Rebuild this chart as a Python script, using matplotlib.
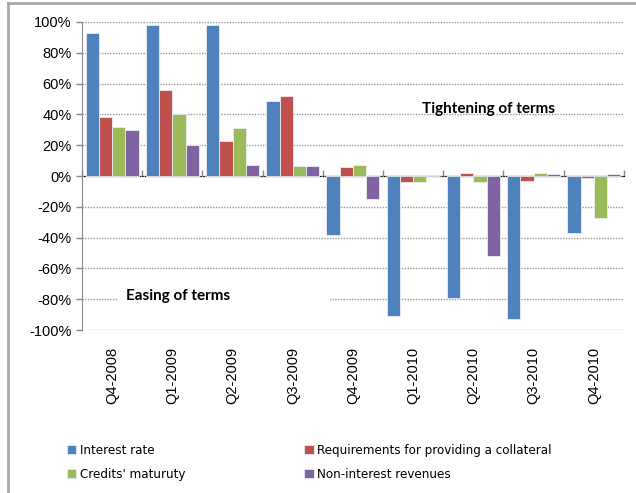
import numpy as np
import matplotlib
matplotlib.use("Agg")
import matplotlib.pyplot as plt
from matplotlib import font_manager
from matplotlib.patches import Rectangle
from matplotlib.lines import Line2D

quarters = ["Q4-2008", "Q1-2009", "Q2-2009", "Q3-2009", "Q4-2009",
            "Q1-2010", "Q2-2010", "Q3-2010", "Q4-2010"]
interest_rate = [93, 98, 98, 49, -38, -91, -79, -93, -37]
collateral = [38, 56, 23, 52, 6, -4, 2, -3, -1]
maturity = [32, 40, 31, 6.5, 7, -4, -4, 2, -27]
non_interest = [30, 20, 7, 6.5, -15, 0, -52, 1, 1]

series = [
    ("Interest rate", interest_rate, "#4F81BD"),
    ("Requirements for providing a collateral", collateral, "#C0504D"),
    ("Credits' maturuty", maturity, "#9BBB59"),
    ("Non-interest revenues", non_interest, "#8064A2"),
]

plt.rcParams['font.family'] = ['Liberation Sans', 'DejaVu Sans']

# narrow font for the legend if one is around
fonts = font_manager.fontManager.ttflist
names = {f.name for f in fonts}
if "Liberation Sans Narrow" in names:
    leg_font = dict(family="Liberation Sans Narrow", size=11)
elif any(f.name == "DejaVu Sans" and f.stretch == "condensed" for f in fonts):
    leg_font = dict(family="DejaVu Sans", stretch="condensed", size=9.5)
else:
    leg_font = dict(family="Liberation Sans", size=8.8)

fig = plt.figure(figsize=(6.36, 4.93), dpi=100)
ax = fig.add_axes([0.129, 0.3306, 0.852, 0.6248])

x = np.arange(len(quarters))
w = 0.22
handles = []
for i, (name, vals, col) in enumerate(series):
    b = ax.bar(x + (i - 1.5) * w, vals, w, color=col, edgecolor="#e8eef6",
               linewidth=0.6, zorder=2, label=name)
    handles.append(b)

ax.set_xlim(-0.5, len(quarters) - 0.5)
ax.set_ylim(-100, 100)
ax.set_yticks(np.arange(-100, 101, 20))
ax.set_yticklabels([f"{v}%" for v in range(-100, 101, 20)], fontsize=10.5)
ax.yaxis.grid(True, linestyle=(0, (1, 1)), color="#9a9a9a", linewidth=1)
ax.set_axisbelow(True)

ax.set_xticks(x)
ax.set_xticklabels(quarters, rotation=90, fontsize=10.5)
ax.tick_params(axis="x", length=0, pad=12)
ax.tick_params(axis="y", length=4, color="#888888", width=1)
for s in ["top", "right", "bottom"]:
    ax.spines[s].set_visible(False)
ax.spines["left"].set_color("#888888")

sec = ax.secondary_xaxis(0.5)
sec.set_xticks(np.arange(len(quarters) + 1) - 0.5)
sec.set_xticklabels([])
sec.tick_params(length=4, color="#888888", width=1, direction="out")
sec.spines["bottom"].set_color("#888888")

ax.add_patch(Rectangle((0.065, 0.09), 0.392, 0.05, transform=ax.transAxes,
                       facecolor="white", edgecolor="none", zorder=1))
ax.text(0.751, 0.719, "Tightening of terms", transform=ax.transAxes,
        ha="center", va="center", fontsize=11, fontweight="bold",
        family="Lato", zorder=3)
ax.text(0.177, 0.112, "Easing of terms", transform=ax.transAxes,
        ha="center", va="center", fontsize=11, fontweight="bold",
        family="Lato", zorder=3)

order = [0, 2, 1, 3]
leg = fig.legend([handles[k] for k in order], [series[k][0] for k in order],
                 ncol=2, loc="upper left", bbox_to_anchor=(0.097, 0.110),
                 frameon=False, prop=leg_font, handlelength=0.7,
                 handleheight=0.7, handletextpad=0.3, columnspacing=9.0,
                 labelspacing=0.85, borderaxespad=0)

fig.add_artist(Line2D([0.0126, 1.0], [0.994, 0.994], transform=fig.transFigure,
                      color="#a8a8a8", linewidth=2))
fig.add_artist(Line2D([0.0126, 0.0126], [0.0, 0.994], transform=fig.transFigure,
                      color="#a8a8a8", linewidth=2))

fig.savefig("out.png", dpi=100)
